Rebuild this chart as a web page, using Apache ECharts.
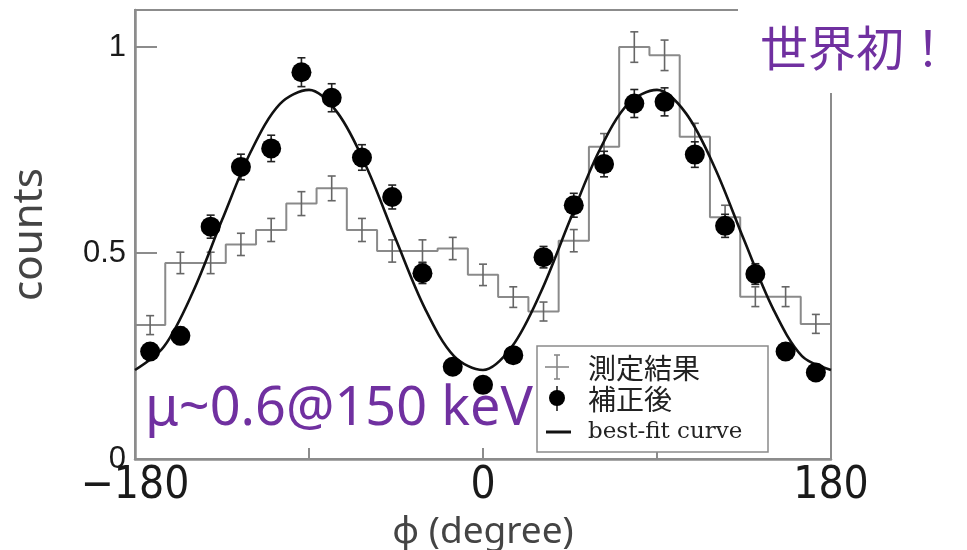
<!DOCTYPE html>
<html>
<head>
<meta charset="utf-8">
<script src="https://cdn.jsdelivr.net/npm/echarts@6/dist/echarts.min.js"></script>
<style>
html,body{margin:0;padding:0;background:#fff;}
#chart{width:967px;height:550px;}
</style>
</head>
<body>
<div id="chart"></div>
<script>
// ---- data ----
const binCount = 23;                       // 23 bins over -180..180 deg
const measured = [0.325,0.476,0.476,0.521,0.556,0.620,0.657,0.556,0.505,0.505,0.511,0.447,0.393,0.358,0.530,0.758,1.000,0.980,0.782,0.587,0.394,0.394,0.328];
const measuredErr = [0.023,0.026,0.026,0.027,0.028,0.029,0.030,0.028,0.027,0.027,0.027,0.026,0.025,0.023,0.027,0.032,0.037,0.037,0.033,0.029,0.024,0.024,0.023];
const corrected = [0.261,0.299,0.564,0.709,0.754,0.939,0.877,0.732,0.636,0.451,0.224,0.180,0.252,0.490,0.616,0.716,0.863,0.867,0.739,0.566,0.449,0.261,0.210];
const correctedErr = [0.020,0.021,0.028,0.031,0.032,0.035,0.034,0.031,0.029,0.025,0.018,0.016,0.019,0.026,0.029,0.031,0.034,0.034,0.031,0.028,0.025,0.020,0.018];
const fitPhi = [-180,-165,-150,-135,-120,-105,-90,-75,-60,-45,-30,-15,0,15,30,45,60,75,90,105,120,135,150,165,180];
const fitValues = [0.216,0.273,0.406,0.580,0.747,0.862,0.896,0.839,0.706,0.532,0.365,0.250,0.216,0.273,0.406,0.580,0.747,0.862,0.896,0.839,0.706,0.532,0.365,0.250,0.216];
const xTickLabels = [-180, 0, 180];
const yTickLabels = [0, 0.5, 1];

// ---- build series data ----
const binWidth = 360 / binCount;
const centers = measured.map((_, i) => -180 + binWidth * (i + 0.5));
const stepData = measured.map((v, i) => [-180 + binWidth * i, v]);
stepData.push([180, measured[measured.length - 1]]);
const measErrData = centers.map((c, i) => [c, measured[i], measuredErr[i]]);
const corrErrData = centers.map((c, i) => [c, corrected[i], correctedErr[i]]);
const corrData = centers.map((c, i) => [c, corrected[i]]);
const fitData = fitPhi.map((p, i) => [p, fitValues[i]]);

function errRender(color) {
  return function (params, api) {
    const x = api.value(0), y = api.value(1), e = api.value(2);
    const top = api.coord([x, y + e]);
    const bot = api.coord([x, y - e]);
    const cap = 4;
    const st = { stroke: color, lineWidth: 1.6 };
    return {
      type: 'group',
      children: [
        { type: 'line', shape: { x1: top[0], y1: top[1], x2: bot[0], y2: bot[1] }, style: st },
        { type: 'line', shape: { x1: top[0] - cap, y1: top[1], x2: top[0] + cap, y2: top[1] }, style: st },
        { type: 'line', shape: { x1: bot[0] - cap, y1: bot[1], x2: bot[0] + cap, y2: bot[1] }, style: st }
      ]
    };
  };
}

const chart = echarts.init(document.getElementById('chart'), null, { renderer: 'canvas' });
const purple = '#7030A0';
const frameColor = '#8c8c8c';
const narrowFont = '"Liberation Sans Narrow", "DejaVu Sans Condensed", "Liberation Sans", sans-serif';

chart.setOption({
  animation: false,
  backgroundColor: '#fff',
  grid: { left: 135, right: 136, top: 10, bottom: 91, show: true, borderColor: frameColor, borderWidth: 2,
          containLabel: false, outerBoundsMode: 'none' },
  xAxis: {
    type: 'value', min: -180, max: 180, interval: 90,
    axisLine: { show: true, onZero: false, lineStyle: { color: frameColor, width: 2.5 } },
    axisTick: { show: true, inside: true, length: 11, customValues: [-90, 0, 90], lineStyle: { color: frameColor, width: 2 } },
    splitLine: { show: false },
    axisLabel: {
      customValues: xTickLabels, margin: 6,
      fontFamily: narrowFont, fontSize: 44, color: '#1a1a1a',
      formatter: v => (v < 0 ? '\u2212' + Math.abs(v) : String(v))
    },
    name: 'φ (degree)', nameLocation: 'middle', nameGap: 46,
    nameTextStyle: { fontFamily: 'Noto Sans', fontSize: 37, color: '#444' }
  },
  yAxis: {
    type: 'value', min: 0, max: 1.09, interval: 0.5,
    axisLine: { show: true, onZero: false, lineStyle: { color: frameColor, width: 2.5 } },
    axisTick: { show: true, inside: true, length: 22, customValues: [0.5, 1], lineStyle: { color: frameColor, width: 2 } },
    splitLine: { show: false },
    axisLabel: {
      customValues: yTickLabels, margin: 9,
      fontFamily: 'Liberation Sans', fontSize: 31, color: '#1a1a1a',
      formatter: v => String(v)
    },
    name: 'counts', nameLocation: 'middle', nameGap: 84, nameRotate: 90,
    nameTextStyle: { fontFamily: 'Noto Sans', fontSize: 42, color: '#444' }
  },
  series: [
    {
      name: '測定結果', type: 'line', step: 'end', data: stepData,
      symbol: 'none', lineStyle: { color: '#8a8a8a', width: 2 }, z: 2
    },
    {
      type: 'custom', renderItem: errRender('#666'), data: measErrData,
      encode: { x: 0, y: 1 }, z: 3
    },
    {
      type: 'custom', renderItem: errRender('#222'), data: corrErrData,
      encode: { x: 0, y: 1 }, z: 4
    },
    {
      name: 'best-fit curve', type: 'line', smooth: 0.33, data: fitData,
      symbol: 'none', lineStyle: { color: '#111', width: 2.6 }, z: 5
    },
    {
      name: '補正後', type: 'scatter', data: corrData,
      symbol: 'circle', symbolSize: 20, itemStyle: { color: '#000', opacity: 1 }, z: 6
    }
  ],
  graphic: [
    { type: 'rect', x: 738, y: 0, shape: { width: 229, height: 93 }, style: { fill: '#fff' }, z: 50 },
    { type: 'text', x: 760, y: 24, z: 60,
      style: { text: '世界初！', font: '48px "Noto Sans CJK JP"', fill: purple } },
    { type: 'text', x: 145, y: 383, z: 60,
      style: { text: 'μ~0.6@150 keV', font: '54px "Noto Sans"', fill: purple } },
    // legend
    { type: 'rect', x: 537, y: 346, z: 70,
      shape: { width: 231, height: 106 }, style: { fill: '#fff', stroke: '#8a8a8a', lineWidth: 1.5 } },
    { type: 'line', z: 71, shape: { x1: 557, y1: 355, x2: 557, y2: 379 }, style: { stroke: '#888', lineWidth: 1.6 } },
    { type: 'line', z: 71, shape: { x1: 554, y1: 355, x2: 560, y2: 355 }, style: { stroke: '#888', lineWidth: 1.6 } },
    { type: 'line', z: 71, shape: { x1: 554, y1: 379, x2: 560, y2: 379 }, style: { stroke: '#888', lineWidth: 1.6 } },
    { type: 'line', z: 71, shape: { x1: 545, y1: 367, x2: 569, y2: 367 }, style: { stroke: '#888', lineWidth: 1.6 } },
    { type: 'line', z: 71, shape: { x1: 557, y1: 386, x2: 557, y2: 411 }, style: { stroke: '#222', lineWidth: 1.6 } },
    { type: 'circle', z: 71, shape: { cx: 557, cy: 398, r: 8 }, style: { fill: '#000' } },
    { type: 'line', z: 71, shape: { x1: 546, y1: 432, x2: 571, y2: 432 }, style: { stroke: '#111', lineWidth: 3 } },
    { type: 'text', z: 71, x: 588, y: 368, style: { text: '測定結果', font: '28px "Noto Sans CJK JP"', fill: '#222', verticalAlign: 'middle' } },
    { type: 'text', z: 71, x: 588, y: 399, style: { text: '補正後', font: '28px "Noto Sans CJK JP"', fill: '#222', verticalAlign: 'middle' } },
    { type: 'text', z: 71, x: 588, y: 432, style: { text: 'best-fit curve', font: '23px "DejaVu Serif"', fill: '#222', verticalAlign: 'middle' } }
  ]
});
</script>
</body>
</html>
